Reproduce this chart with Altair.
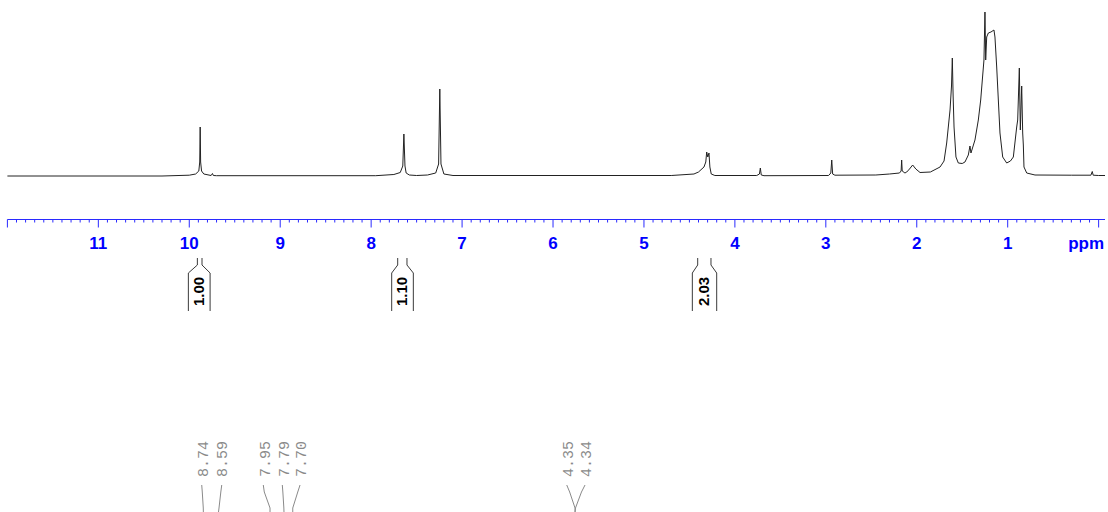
import altair as alt
import pandas as pd

# ---- spectrum (chemical shift in ppm, intensity) ----
ppm = [12.0, 10.3, 10.0, 9.93, 9.895, 9.885, 9.88, 9.875, 9.865, 9.84, 9.76, 9.745, 9.735, 9.70,
       7.95, 7.75, 7.68, 7.652, 7.64, 7.628, 7.615, 7.58, 7.50, 7.38, 7.29, 7.258, 7.245, 7.232, 7.20, 7.10,
       4.70, 4.45, 4.40, 4.34, 4.32, 4.31, 4.298, 4.285, 4.275, 4.26, 4.22,
       3.76, 3.73, 3.72, 3.71, 3.68, 2.97, 2.945, 2.935, 2.925, 2.90,
       2.45, 2.30, 2.19, 2.172, 2.166, 2.16, 2.13, 2.11, 2.08, 2.045, 2.01, 1.964, 1.85,
       1.744, 1.70, 1.671, 1.634, 1.618, 1.609, 1.60, 1.590, 1.569, 1.543, 1.50, 1.470, 1.433,
       1.415, 1.404, 1.36, 1.323, 1.297, 1.279, 1.261, 1.250, 1.242, 1.231, 1.213, 1.184, 1.151,
       1.140, 1.121, 1.103, 1.085, 1.055, 1.011, 0.97, 0.938, 0.901, 0.890, 0.872, 0.861, 0.846,
       0.835, 0.828, 0.821, 0.791, 0.70, 0.30, 0.085, 0.070, 0.060, 0.0, -0.07]
intensity = [0, 0, 0.8, 2, 5, 14, 49, 14, 5, 2, 0.5, 2.5, 0.5, 0.3,
             0.3, 1.5, 3.5, 10, 42, 10, 3, 1, 0.5, 1, 3, 12, 87, 12, 2, 0.5,
             0.5, 2, 4, 9, 14, 24, 19, 23, 9, 2, 0.5,
             0.5, 2, 8, 1, 0.3, 0.5, 3, 16, 2, 0.8,
             1, 2, 3, 5, 16, 5, 3, 4, 7, 11, 7, 3.5, 4,
             9, 15, 33, 66, 90, 118, 80, 49, 19, 13, 12.5, 14, 21,
             30, 23, 36, 56, 76, 96, 116, 164, 116, 139, 143, 144, 146,
             139, 109, 76, 43, 19, 13, 15, 19, 49, 56, 108, 46, 90,
             43, 31, 9, 3, 1, 0.8, 0.8, 4.5, 0.8, 0.5, 0.5]

# ---- axis ----
major_ticks = [12, 11, 10, 9, 8, 7, 6, 5, 4, 3, 2, 1, 0]
tick_values = [11, 10, 9, 8, 7, 6, 5, 4, 3, 2, 1]
tick_labels = ["11", "10", "9", "8", "7", "6", "5", "4", "3", "2", "1"]
minor_ticks = [i / 10 for i in range(0, 121) if i % 10 != 0]
unit_label = ["ppm"]

# ---- integrals ----
int_labels = ["1.00", "1.10", "2.03"]
int_inner_left = [9.911, 7.708, 4.409]
int_inner_right = [9.860, 7.606, 4.263]
int_outer_left = [10.010, 7.774, 4.468]
int_outer_right = [9.771, 7.536, 4.200]
int_center = [9.890, 7.660, 4.336]

# ---- peak labels ----
peak_labels = ["8.74", "8.59", "7.95", "7.79", "7.70", "4.35", "4.34"]
peak_label_pos = [9.845, 9.635, 9.164, 8.963, 8.771, 5.831, 5.637]
lead_a = [9.863, 9.643, 9.186, 8.977, 8.782, 5.849, 5.648]
lead_b = [9.857, 9.653, 9.175, 8.971, 8.807, 5.817, 5.687]
lead_c = [9.846, 9.673, 9.112, 8.960, 8.862, 5.758, 5.753]
lead_d = [9.845, 9.680, 9.112, 8.958, 8.862, 5.758, 5.758]

BLUE = "#0000ff"
BLUE_LINE = "#2a2aff"

xs = alt.Scale(domain=[12, -0.07], range=[7.4, 1105], nice=False, zero=False)
ys = alt.Scale(domain=[0, 165], range=[176, 11], nice=False, zero=False)

spec_df = pd.DataFrame({"ppm": ppm, "intensity": intensity, "idx": range(len(ppm))})
spectrum = alt.Chart(spec_df).mark_line(color="#222222", strokeWidth=1).encode(
    x=alt.X("ppm:Q", scale=xs, axis=None),
    y=alt.Y("intensity:Q", scale=ys, axis=None),
    order="idx:Q",
)

axis_line = alt.Chart(pd.DataFrame({"a": [12.0], "b": [-0.07]})).mark_rule(
    color=BLUE_LINE, strokeWidth=1
).encode(
    x=alt.X("a:Q", scale=xs, axis=None), x2="b:Q", y=alt.value(219.5)
)

major = alt.Chart(pd.DataFrame({"t": major_ticks})).mark_rule(color=BLUE_LINE, strokeWidth=1).encode(
    x=alt.X("t:Q", scale=xs, axis=None), y=alt.value(219.5), y2=alt.value(227.5)
)
minor = alt.Chart(pd.DataFrame({"t": minor_ticks})).mark_rule(color=BLUE_LINE, strokeWidth=1).encode(
    x=alt.X("t:Q", scale=xs, axis=None), y=alt.value(219.5), y2=alt.value(222.5)
)
labels = alt.Chart(pd.DataFrame({"t": tick_values, "l": tick_labels})).mark_text(
    color=BLUE, font="Liberation Sans", fontWeight="bold", fontSize=17, baseline="alphabetic", align="center"
).encode(x=alt.X("t:Q", scale=xs, axis=None), y=alt.value(248.5), text="l:N")
unit = alt.Chart(pd.DataFrame({"t": [-0.06], "l": unit_label})).mark_text(
    color=BLUE, font="Liberation Sans", fontWeight="bold", fontSize=17, baseline="alphabetic", align="right"
).encode(x=alt.X("t:Q", scale=xs, axis=None), y=alt.value(248.5), text="l:N")

int_df = pd.DataFrame({
    "label": int_labels, "il": int_inner_left, "ir": int_inner_right,
    "ol": int_outer_left, "or": int_outer_right, "c": int_center,
})
BR = "#3a3a3a"
br_layers = []
for inner, outer in (("il", "ol"), ("ir", "or")):
    br_layers.append(alt.Chart(int_df).mark_rule(color=BR, strokeWidth=1).encode(
        x=alt.X(f"{inner}:Q", scale=xs, axis=None), y=alt.value(258), y2=alt.value(265)))
    br_layers.append(alt.Chart(int_df).mark_rule(color=BR, strokeWidth=1).encode(
        x=alt.X(f"{inner}:Q", scale=xs, axis=None), x2=f"{outer}:Q", y=alt.value(265), y2=alt.value(273)))
    br_layers.append(alt.Chart(int_df).mark_rule(color=BR, strokeWidth=1).encode(
        x=alt.X(f"{outer}:Q", scale=xs, axis=None), y=alt.value(273), y2=alt.value(311)))
int_text = alt.Chart(int_df).mark_text(
    angle=270, color="#000000", font="Liberation Sans", fontWeight="bold", fontSize=15,
    align="center", baseline="middle"
).encode(x=alt.X("c:Q", scale=xs, axis=None), y=alt.value(291.5), text="label:N")

pk_df = pd.DataFrame({"label": peak_labels, "pos": peak_label_pos,
                      "a": lead_a, "b": lead_b, "c": lead_c, "d": lead_d})
GRAY = "#8a8a8a"
pk_text = alt.Chart(pk_df).mark_text(
    angle=270, color=GRAY, font="Liberation Mono", fontSize=15, align="center", baseline="middle"
).encode(x=alt.X("pos:Q", scale=xs, axis=None), y=alt.value(459), text="label:N")
lead1 = alt.Chart(pk_df).mark_rule(color=GRAY, strokeWidth=1).encode(
    x=alt.X("a:Q", scale=xs, axis=None), x2="b:Q", y=alt.value(485), y2=alt.value(492))
lead2 = alt.Chart(pk_df).mark_rule(color=GRAY, strokeWidth=1).encode(
    x=alt.X("b:Q", scale=xs, axis=None), x2="c:Q", y=alt.value(492), y2=alt.value(508))
lead3 = alt.Chart(pk_df).mark_rule(color=GRAY, strokeWidth=1).encode(
    x=alt.X("c:Q", scale=xs, axis=None), x2="d:Q", y=alt.value(508), y2=alt.value(513))

chart = alt.layer(
    spectrum, axis_line, minor, major, labels, unit, *br_layers, int_text,
    pk_text, lead1, lead2, lead3
).properties(
    width=1108, height=512, autosize=alt.AutoSizeParams(type="none"), padding=0, background="white"
).configure_view(stroke=None)

chart.save("out.html", embed_options={"renderer": "svg", "actions": False})
